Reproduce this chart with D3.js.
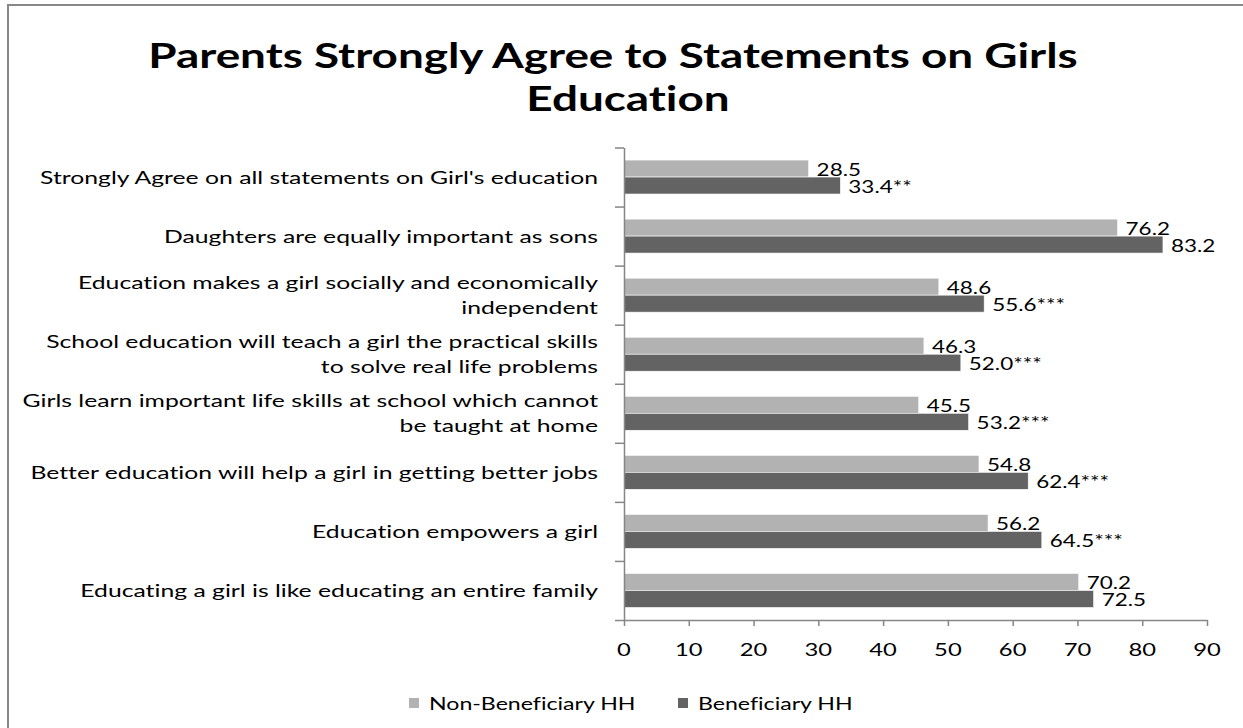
<!DOCTYPE html>
<html>
<head>
<meta charset="utf-8">
<script src="https://cdn.jsdelivr.net/npm/d3@7/dist/d3.min.js"></script>
<style>
  body { margin: 0; background: #fff; }
  text { font-family: Lato, "Liberation Sans", sans-serif; fill: #000; font-variant-ligatures: none; }
</style>
</head>
<body>
<svg id="chart" width="1243" height="728"></svg>
<script>
// Statements (line breaks mark where the label wraps)
const categories = [
  "Strongly Agree on all statements on Girl's education",
  "Daughters are equally important as sons",
  "Education makes a girl socially and economically\nindependent",
  "School education will teach a girl the practical skills\nto solve real life problems",
  "Girls learn important life skills at school which cannot\nbe taught at home",
  "Better education will help a girl in getting better jobs",
  "Education empowers a girl",
  "Educating a girl is like educating an entire family"
];
const seriesNames = ["Non-Beneficiary HH", "Beneficiary HH"];
const nonBeneficiary = [28.5, 76.2, 48.6, 46.3, 45.5, 54.8, 56.2, 70.2];
const beneficiary = [33.4, 83.2, 55.6, 52.0, 53.2, 62.4, 64.5, 72.5];
const significance = ["**", "", "***", "***", "***", "***", "***", ""];
const xTicks = [0, 10, 20, 30, 40, 50, 60, 70, 80, 90];
const titleLines = ["Parents Strongly Agree to Statements on Girls", "Education"];

const W = 1243, H = 728;
const colors = ["#b2b2b2", "#636363"];
const axisColor = "#868686";
const SX = 1.36;        // horizontal text stretch
const LABEL_SX = 1.375;
const TITLE_SX = 1.31;

const svg = d3.select("#chart");

// outer frame (right and bottom edges run off the canvas)
svg.append("rect")
  .attr("x", 8).attr("y", 5)
  .attr("width", W + 10).attr("height", H + 10)
  .attr("fill", "none").attr("stroke", "#888").attr("stroke-width", 2);

const plot = { left: 624, right: 1207, top: 147.5, bottom: 620 };

const x = d3.scaleLinear().domain([0, 90]).range([plot.left, plot.right]);
const y = d3.scaleBand().domain(d3.range(categories.length))
  .range([plot.top, plot.bottom]).paddingInner(0.425).paddingOuter(0.2125);
const sub = d3.scaleBand().domain([0, 1]).range([0, y.bandwidth()]);

function stretchedText(g, tx, ty, sx) {
  return g.append("text").attr("transform", `translate(${tx},${ty}) scale(${sx},1)`);
}

// title
const titleCenters = [613, 628];
titleLines.forEach((line, i) => {
  stretchedText(svg, titleCenters[i], 68 + i * 43, TITLE_SX)
    .attr("text-anchor", "middle")
    .attr("font-weight", "bold")
    .attr("font-size", 35)
    .text(line);
});

// bars
const series = [nonBeneficiary, beneficiary];
series.forEach((vals, s) => {
  svg.append("g").selectAll("rect").data(vals).join("rect")
    .attr("x", x(0))
    .attr("y", (d, i) => y(i) + sub(s))
    .attr("width", d => x(d) - x(0))
    .attr("height", sub.bandwidth())
    .attr("fill", colors[s])
    .attr("stroke", "#fff").attr("stroke-width", 0.6);
});

// value labels
series.forEach((vals, s) => {
  const g = svg.append("g");
  vals.forEach((v, i) => {
    const label = v.toFixed(1) + (s === 1 ? significance[i] : "");
    stretchedText(g, x(v) + 8, y(i) + sub(s) + sub.bandwidth() / 2 + 1, SX)
      .attr("dominant-baseline", "central")
      .attr("font-size", 16.5)
      .text(label);
  });
});

// category axis: ticks on band boundaries
const bounds = d3.scaleLinear().domain([0, categories.length]).range([plot.top, plot.bottom]);
const yAxis = svg.append("g").attr("transform", `translate(${plot.left},0)`)
  .call(d3.axisLeft(bounds).tickValues(d3.range(categories.length + 1)).tickSize(9).tickFormat("").tickSizeOuter(0));
yAxis.selectAll("line,path").attr("stroke", axisColor).attr("stroke-width", 1.5);

// category labels
categories.forEach((c, i) => {
  const lines = c.split("\n");
  const cy = y(i) + y.bandwidth() / 2;
  const lh = 25;
  lines.forEach((line, k) => {
    stretchedText(svg, 598, cy + (k - (lines.length - 1) / 2) * lh, LABEL_SX)
      .attr("text-anchor", "end")
      .attr("dominant-baseline", "central")
      .attr("font-size", 18)
      .text(line);
  });
});

// value axis
const xAxis = svg.append("g").attr("transform", `translate(0,${plot.bottom})`)
  .call(d3.axisBottom(x).tickValues(xTicks).tickSize(6).tickSizeOuter(0).tickFormat(() => ""));
xAxis.selectAll("line,path").attr("stroke", axisColor).attr("stroke-width", 1.5);
xTicks.forEach(t => {
  stretchedText(svg, x(t), 656, SX)
    .attr("text-anchor", "middle")
    .attr("font-size", 17.5)
    .text(t);
});

// legend
const legendItems = [{ x: 409, tx: 429 }, { x: 678, tx: 698 }];
seriesNames.forEach((name, s) => {
  svg.append("rect")
    .attr("x", legendItems[s].x).attr("y", 698)
    .attr("width", 10).attr("height", 10)
    .attr("fill", colors[s]);
  stretchedText(svg, legendItems[s].tx, 703, SX)
    .attr("dominant-baseline", "central")
    .attr("font-size", 17)
    .text(name);
});
</script>
</body>
</html>
